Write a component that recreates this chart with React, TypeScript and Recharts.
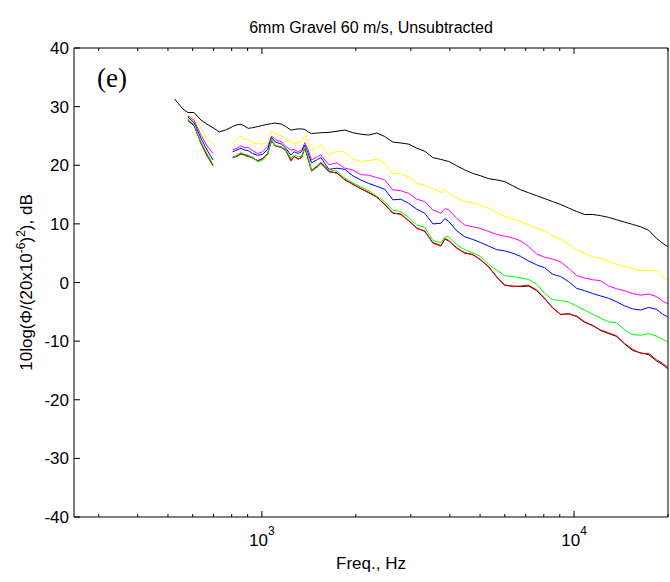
import React from 'react';
import { Label, Line, LineChart, XAxis, YAxis } from 'recharts';

// frequency grid, Hz
const freqs = [
  525, 558, 579, 606, 638, 667, 697, 730, 765,
  806, 832, 857, 878, 904, 934, 969, 1005, 1043, 1074, 1101, 1156, 1193, 1238, 1269, 1307, 1340, 1373, 1407, 1442, 1508, 1545,
  1639, 1740, 1844, 1956, 2074, 2199, 2334, 2475, 2626, 2786, 2955, 3135, 3326, 3529, 3744, 3856, 3969, 4212, 4468, 4738, 5026, 5331, 5655,
  5999, 6364, 6751, 7161, 7598, 8059, 8548, 9067, 9617, 10200, 10822, 11480, 12177, 12916, 13700, 14533, 15417, 16354, 17347, 18400, 19231, 19953,
];

// levels, dB (null = no data)
const blackTop = [
  31.3, 29.6, 29.0, 29.0, 27.7, 27.0, 26.4, 25.7, 26.0,
  26.6, 26.9, 27.0, 26.7, 26.3, 26.4, 26.6, 26.8, 27.0, 27.1, 27.2, 27.0, 26.6, 26.0, 26.1, 26.2, 26.2, 26.1, 25.7, 25.4, 25.5, 25.55,
  25.6, 25.8, 26.0, 25.55, 25.3, 25.15, 25.5, 24.9, 23.96, 23.8, 23.6, 22.9, 22.4, 21.3, 21.0, 20.8, 20.65, 19.9, 19.2, 18.6, 18.2, 17.7, 17.5,
  17.2, 16.5, 15.8, 15.3, 14.8, 14.3, 13.8, 13.3, 12.7, 12.1, 11.6, 11.6, 11.4, 11.1, 10.7, 10.3, 9.9, 9.5, 8.9, 7.5, 6.7, 6.1,
];

const yellow = [
  null, null, 28.4, 28.2, 26.3, 24.5, 23.6, null, null,
  23.85, 24.47, 24.98, 24.41, 24.47, 23.8, 23.7, 23.6, 24.1, 25.9, 25.4, 25.1, 24.3, 24.0, 23.7, 23.85, 24.0, 25.15, 23.85, 22.5, 23.2, 23.45,
  21.8, 22.4, 22.25, 21.0, 20.65, 20.8, 21.05, 20.3, 18.6, 18.5, 18.05, 16.9, 16.6, 16.05, 15.3, 15.9, 15.2, 14.4, 13.8, 13.6, 13.2, 12.7, 11.9,
  11.3, 10.8, 10.4, 9.8, 9.3, 8.8, 7.9, 7.35, 6.55, 5.65, 4.96, 4.4, 4.1, 3.65, 3.14, 2.8, 2.4, 2.0, 2.1, 2.0, 0.87, 0.5,
];

const magenta = [
  null, null, 28.4, 27.7, 25.15, 23.3, 22.0, null, null,
  22.6, 22.9, 23.3, 23.0, 23.05, 22.5, 22.0, 22.3, 23.2, 25.0, 24.4, 24.0, 23.2, 22.6, 22.7, 22.3, 22.6, 23.85, 22.6, 20.9, 21.5, 21.75,
  20.1, 20.4, 19.5, 19.2, 18.4, 18.3, 17.9, 17.5, 15.8, 15.65, 15.2, 14.2, 13.8, 12.4, 11.8, 12.6, 12.4, 10.9, 9.8, 9.5, 9.2, 8.7, 8.2,
  7.9, 7.6, 7.1, 6.1, 4.85, 4.3, 4.0, 3.5, 2.4, 1.2, 0.75, 0.47, 0.3, -0.6, -1.07, -1.4, -1.9, -2.15, -1.98, -2.4, -3.2, -3.6,
];

const blue = [
  null, null, 28.2, 27.3, 24.6, 22.6, 20.9, null, null,
  22.3, 22.6, 22.9, 22.6, 22.5, 22.0, 21.7, 21.85, 22.7, 24.75, 24.0, 23.6, 22.9, 21.75, 22.3, 22.0, 22.3, 23.45, 22.0, 20.4, 21.0, 21.3,
  19.3, 19.5, 19.3, 18.2, 17.5, 16.9, 16.4, 15.9, 14.1, 14.2, 13.5, 12.5, 11.8, 10.0, 10.1, 10.9, 10.4, 8.8, 7.8, 7.35, 6.8, 6.2, 5.6,
  5.4, 5.0, 4.45, 3.65, 3.0, 2.5, 1.4, 1.0, 0.13, -1.0, -1.4, -1.9, -2.3, -2.7, -3.3, -4.0, -4.5, -4.7, -4.25, -4.6, -5.4, -5.85,
];

const dark = [
  null, null, 27.6, 26.8, 23.8, 21.7, 20.0, null, null,
  21.3, 21.5, 22.0, 21.8, 21.6, 21.2, 20.8, 21.1, 22.0, 24.2, 23.4, 23.0, 22.5, 20.9, 21.5, 21.1, 21.3, 23.0, 21.1, 19.1, 19.9, 20.4,
  18.9, 18.7, 17.5, 16.8, 16.0, 15.3, 14.6, 13.3, 11.8, 11.7, 10.5, 9.3, 8.7, 6.8, 6.3, 7.4, 7.1, 5.9, 5.0, 4.8, 3.8, 2.7, 0.9,
  -0.5, -0.6, -0.7, -0.6, -1.4, -2.8, -4.3, -5.5, -5.3, -5.8, -6.8, -7.3, -8.2, -8.7, -9.2, -10.5, -11.6, -12.0, -12.3, -13.4, -14.0, -14.7,
];

const red = [
  null, null, 27.8, 26.9, 23.7, 21.6, 19.9, null, null,
  21.45, 21.55, 21.9, 21.7, 21.45, 21.35, 20.7, 21.0, 21.9, 24.3, 23.3, 23.05, 22.6, 20.7, 21.45, 21.0, 21.35, 23.05, 21.0, 19.0, 19.75, 20.3,
  19.0, 18.6, 17.6, 16.7, 16.05, 15.4, 14.5, 13.4, 11.9, 11.6, 10.6, 9.2, 8.8, 6.7, 6.2, 7.5, 7.2, 5.8, 5.1, 4.7, 3.9, 2.6, 1.0,
  -0.4, -0.7, -0.6, -0.45, -1.3, -2.7, -4.4, -5.4, -5.4, -5.7, -6.7, -7.4, -8.1, -8.6, -9.1, -10.4, -11.4, -12.1, -12.1, -13.2, -13.8, -14.4,
];

const green = [
  null, null, 27.8, 27.0, 24.0, 22.0, 20.2, null, null,
  21.2, 21.75, 22.15, 21.9, 21.7, 21.35, 20.6, 20.9, 21.85, 24.4, 23.45, 23.15, 22.7, 21.2, 21.75, 21.45, 21.55, 23.15, 21.45, 19.2, 20.0, 20.6,
  19.2, 19.0, 17.8, 17.0, 16.3, 15.65, 14.7, 13.8, 12.35, 12.1, 11.1, 9.8, 9.4, 7.2, 6.8, 7.8, 7.8, 6.4, 5.6, 5.1, 4.4, 3.1, 2.1,
  1.15, 1.0, 0.8, 0.5, -0.3, -1.9, -2.9, -3.1, -3.35, -4.0, -4.7, -5.4, -6.1, -6.7, -6.9, -8.1, -8.9, -9.0, -8.7, -9.15, -9.7, -10.1,
];

const xTicks = [300, 400, 500, 600, 700, 800, 900, 1000, 2000, 3000, 4000, 5000, 6000, 7000, 8000, 9000, 10000, 20000];
const xMajor = [1000, 10000];
const xMajorExp = ['3', '4'];
const yTicks = [-40, -30, -20, -10, 0, 10, 20, 30, 40];

const series = [
  { key: 'k', color: '#000000', values: blackTop },
  { key: 'y', color: '#ffff00', values: yellow },
  { key: 'm', color: '#ff00ff', values: magenta },
  { key: 'b', color: '#0000ff', values: blue },
  { key: 'd', color: '#000000', values: dark },
  { key: 'r', color: '#ff0000', values: red },
  { key: 'g', color: '#00ff00', values: green },
];

const data = freqs.map((f, i) => {
  const row: Record<string, number | null> = { f };
  series.forEach((s) => {
    row[s.key] = s.values[i];
  });
  return row;
});

const FONT = '"Liberation Sans", Arial, sans-serif';

function BottomTick({ x, y, payload }: any) {
  const idx = xMajor.indexOf(payload.value);
  const major = idx >= 0;
  return (
    <g>
      <line x1={x} y1={y} x2={x} y2={y - (major ? 6 : 3)} stroke="#000" />
      {major && (
        <text x={x} y={y + 29} textAnchor="middle" fontSize={17} fontFamily={FONT} fill="#000">
          10
          <tspan dy={-11} fontSize={12}>
            {xMajorExp[idx]}
          </tspan>
        </text>
      )}
    </g>
  );
}

function TopTick({ x, y, payload }: any) {
  const major = xMajor.includes(payload.value);
  return <line x1={x} y1={y} x2={x} y2={y + (major ? 6 : 3)} stroke="#000" />;
}

function LeftTick({ x, y, payload }: any) {
  return (
    <g>
      <line x1={x} y1={y} x2={x + 6} y2={y} stroke="#000" />
      <text x={x - 5} y={y + 6} textAnchor="end" fontSize={17} fontFamily={FONT} fill="#000">
        {payload.value}
      </text>
    </g>
  );
}

function RightTick({ x, y }: any) {
  return <line x1={x} y1={y} x2={x - 6} y2={y} stroke="#000" />;
}

function TitleLabel({ viewBox }: any) {
  return (
    <text x={viewBox.x + viewBox.width / 2} y={viewBox.y + viewBox.height - 15} textAnchor="middle" fontSize={16} fontFamily={FONT} fill="#000">
      6mm Gravel 60 m/s, Unsubtracted
    </text>
  );
}

function XTitle({ viewBox }: any) {
  return (
    <text x={viewBox.x + viewBox.width / 2} y={viewBox.y + 52} textAnchor="middle" fontSize={17} fontFamily={FONT} fill="#000">
      Freq., Hz
    </text>
  );
}

function YTitle({ viewBox }: any) {
  const cx = viewBox.x + 32;
  const cy = viewBox.y + viewBox.height / 2;
  return (
    <text x={cx} y={cy} transform={`rotate(-90, ${cx}, ${cy})`} textAnchor="middle" fontSize={17} fontFamily={FONT} fill="#000">
      10log(Φ/(20x10
      <tspan dy={-7} fontSize={12}>-6</tspan>
      <tspan dy={7}>)</tspan>
      <tspan dy={-7} fontSize={12}>2</tspan>
      <tspan dy={7}>), dB</tspan>
    </text>
  );
}

function PanelTag({ viewBox }: any) {
  return (
    <text x={viewBox.x + viewBox.width + 23} y={viewBox.y + 39} fontSize={27} fontFamily='"Liberation Serif", "Times New Roman", serif' fill="#000">
      (e)
    </text>
  );
}

export default function App() {
  return (
    <div style={{ position: 'absolute', left: 0, top: 0, width: 670, height: 582, background: '#fff' }}>
      <LineChart width={670} height={582} data={data} margin={{ top: 0, right: 0, bottom: 0, left: 0 }}>
        <XAxis
          xAxisId="b"
          dataKey="f"
          type="number"
          scale="log"
          domain={[250, 20000]}
          allowDataOverflow
          ticks={xTicks}
          interval={0}
          orientation="bottom"
          height={65}
          tickSize={0}
          tickMargin={0}
          tickLine={false}
          axisLine={{ stroke: '#000' }}
          tick={<BottomTick />}
        >
          <Label content={<XTitle />} />
        </XAxis>
        <XAxis
          xAxisId="t"
          dataKey="f"
          type="number"
          scale="log"
          domain={[250, 20000]}
          allowDataOverflow
          ticks={xTicks}
          interval={0}
          orientation="top"
          height={48}
          tickSize={0}
          tickMargin={0}
          tickLine={false}
          axisLine={{ stroke: '#000' }}
          tick={<TopTick />}
        >
          <Label content={<TitleLabel />} />
        </XAxis>
        <YAxis
          yAxisId="l"
          type="number"
          domain={[-40, 40]}
          ticks={yTicks}
          interval={0}
          orientation="left"
          width={74}
          tickSize={0}
          tickMargin={0}
          tickLine={false}
          axisLine={{ stroke: '#000' }}
          tick={<LeftTick />}
        >
          <Label content={<YTitle />} />
          <Label content={<PanelTag />} />
        </YAxis>
        <YAxis
          yAxisId="r"
          type="number"
          domain={[-40, 40]}
          ticks={yTicks}
          interval={0}
          orientation="right"
          width={2}
          tickSize={0}
          tickMargin={0}
          tickLine={false}
          axisLine={{ stroke: '#000' }}
          tick={<RightTick />}
        />
        {series.map((s) => (
          <Line
            key={s.key}
            xAxisId="b"
            yAxisId="l"
            type="linear"
            dataKey={s.key}
            stroke={s.color}
            strokeWidth={1}
            dot={false}
            activeDot={false}
            connectNulls={false}
            isAnimationActive={false}
          />
        ))}
      </LineChart>
    </div>
  );
}
